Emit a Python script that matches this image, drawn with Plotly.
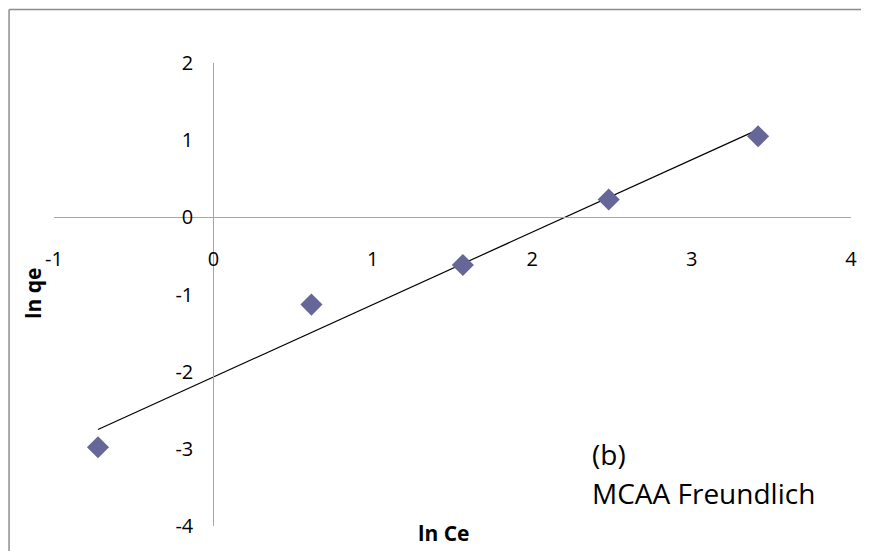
import numpy as np
import plotly.graph_objects as go

# Data
ln_ce = [-0.724, 0.615, 1.565, 2.48, 3.417]
ln_qe = [-2.98, -1.131, -0.617, 0.231, 1.05]

x_ticks = [-1, 0, 1, 2, 3, 4]
y_ticks = [-4, -3, -2, -1, 0, 1, 2]

x_title = "ln Ce"
y_title = "ln qe"
label_line1 = "(b)"
label_line2 = "MCAA Freundlich"

# Linear trendline (least squares) across the data span
slope, intercept = np.polyfit(ln_ce, ln_qe, 1)
tx = [min(ln_ce), max(ln_ce)]
ty = [slope * v + intercept for v in tx]

FONT = "Open Sans"
AXIS_GRAY = "#A6A6A6"

fig = go.Figure()
fig.add_trace(go.Scatter(
    x=tx, y=ty, mode="lines",
    line=dict(color="black", width=1.2),
    showlegend=False, hoverinfo="skip",
))
fig.add_trace(go.Scatter(
    x=ln_ce, y=ln_qe, mode="markers",
    marker=dict(symbol="diamond", size=17, color="#666699",
                line=dict(width=0)),
    showlegend=False,
))

# page body adds an 8px offset; work in screen pixels and subtract it
OFF = 8
W, H = 869 - OFF, 551 - OFF
L, T = 54 - OFF, 63 - OFF
R = W - (852 - OFF)
B = H - (530 - OFF)
pw, ph = W - L - R, H - T - B


def px_x(p):
    return (p - OFF - L) / pw


def px_y(p):
    return (H - B - (p - OFF)) / ph


fig.update_layout(
    width=W, height=H,
    margin=dict(l=L, r=R, t=T, b=B, pad=0),
    paper_bgcolor="white", plot_bgcolor="white",
    font=dict(family=FONT, color="black"),
    xaxis=dict(
        range=[-1, 4], tickvals=x_ticks, ticktext=[str(v) for v in x_ticks],
        showgrid=False, zeroline=False,
        showline=True, linecolor=AXIS_GRAY, linewidth=1.3,
        anchor="free", position=4 / 6,
        ticks="", tickfont=dict(size=20, family=FONT, color="black"),
        ticklabelstandoff=24,
    ),
    yaxis=dict(
        range=[-4, 2], tickvals=y_ticks, ticktext=[str(v) for v in y_ticks],
        showgrid=False, zeroline=False,
        showline=True, linecolor=AXIS_GRAY, linewidth=1.3,
        anchor="free", position=0.2,
        ticks="", tickfont=dict(size=20, family=FONT, color="black"),
        ticklabelstandoff=16,
    ),
    shapes=[
        dict(type="line", xref="paper", yref="paper",
             x0=px_x(9), x1=px_x(9), y0=px_y(560), y1=px_y(9),
             line=dict(color="#8C8C8C", width=1.5)),
        dict(type="line", xref="paper", yref="paper",
             x0=px_x(9), x1=px_x(880), y0=px_y(9), y1=px_y(9),
             line=dict(color="#8C8C8C", width=1.5)),
    ],
    annotations=[
        dict(text=f"<b>{x_title}</b>", xref="paper", yref="paper",
             x=px_x(444), y=px_y(537), xanchor="center", yanchor="middle",
             showarrow=False, font=dict(size=21, family=FONT)),
        dict(text=f"<b>{y_title}</b>", xref="paper", yref="paper",
             x=px_x(33), y=px_y(296), xanchor="center", yanchor="middle",
             textangle=-90, showarrow=False, font=dict(size=21, family=FONT)),
        dict(text=label_line1, xref="paper", yref="paper",
             x=px_x(591), y=px_y(457), xanchor="left", yanchor="middle",
             showarrow=False, font=dict(size=28, family=FONT)),
        dict(text=label_line2, xref="paper", yref="paper",
             x=px_x(591), y=px_y(497), xanchor="left", yanchor="middle",
             showarrow=False, font=dict(size=28, family=FONT)),
    ],
)

fig.write_html("out.html")
